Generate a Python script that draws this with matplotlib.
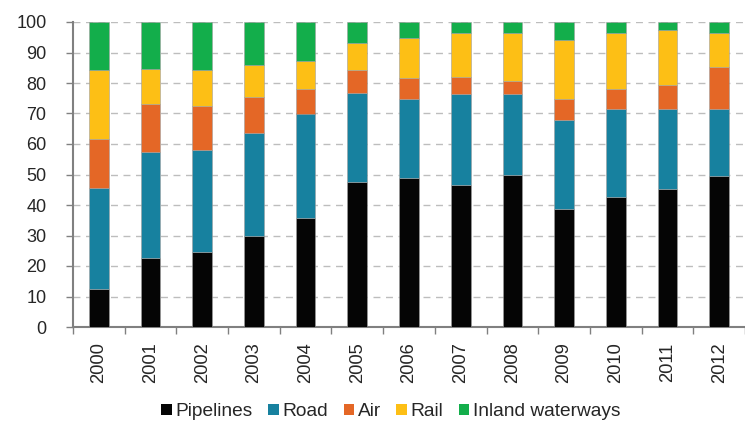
import matplotlib
matplotlib.use("Agg")
import matplotlib.pyplot as plt
import numpy as np

plt.rcParams['font.family'] = ['Liberation Sans', 'DejaVu Sans']

years = ["2000", "2001", "2002", "2003", "2004", "2005", "2006",
         "2007", "2008", "2009", "2010", "2011", "2012"]
# cumulative tops
pipelines_top = [12.6, 22.6, 24.7, 30.0, 35.8, 47.4, 49.0, 46.4, 50.0, 38.8, 42.6, 45.2, 49.5]
road_top      = [45.7, 57.3, 57.9, 63.7, 70.0, 76.8, 74.6, 76.3, 76.3, 67.8, 71.6, 71.6, 71.6]
air_top       = [61.5, 73.1, 72.6, 75.3, 77.9, 84.1, 81.5, 82.1, 80.5, 74.6, 77.9, 79.4, 85.2]
rail_top      = [84.1, 84.7, 84.1, 85.8, 87.3, 93.2, 94.6, 96.3, 96.3, 94.2, 96.3, 97.3, 96.3]
total         = [100.0] * 13

names = ["Pipelines", "Road", "Air", "Rail", "Inland waterways"]
colors = ["#050505", "#17819f", "#e46726", "#fdbf15", "#13ae4b"]

tops = [pipelines_top, road_top, air_top, rail_top, total]
values = []
prev = np.zeros(len(years))
for t in tops:
    t = np.array(t)
    values.append(t - prev)
    prev = t

fig = plt.figure(figsize=(7.45, 4.24), dpi=100)
ax = fig.add_axes([73 / 745, 1 - 327 / 424, (745 - 73) / 745, 305 / 424])

x = np.arange(len(years))
bottom = np.zeros(len(years))
for name, col, v in zip(names, colors, values):
    ax.bar(x, v, bottom=bottom, width=0.38, color=col, label=name,
           edgecolor='#a0a0a0', linewidth=0.4, zorder=3)
    bottom = bottom + v

ax.set_ylim(0, 100)
ax.set_xlim(-0.5, 12.32)
ax.set_yticks(np.arange(0, 101, 10))
ax.yaxis.grid(True, linestyle=(0, (5, 4)), color='#bdbdbd', linewidth=1.0, zorder=0)
ax.set_axisbelow(True)

ax.set_xticks(x)
ax.set_xticklabels(years, rotation=90, fontsize=13.2, color='#262626')
ax.set_xticks(np.arange(-0.5, 12.6, 1), minor=True)
ax.tick_params(axis='x', which='major', length=0, pad=11)
ax.tick_params(axis='x', which='minor', length=5, color='#808080', width=1)
ax.tick_params(axis='y', length=5, color='#808080', width=1, labelsize=13,
               labelcolor='#262626', pad=14)

for s in ['top', 'right']:
    ax.spines[s].set_visible(False)
for s in ['left', 'bottom']:
    ax.spines[s].set_color('#808080')
    ax.spines[s].set_linewidth(1.5)

handles, labels = ax.get_legend_handles_labels()
leg = fig.legend(handles, labels, loc='center', bbox_to_anchor=(391 / 745, 1 - 412 / 424),
                 ncol=5, frameon=False, fontsize=13.8, handlelength=0.55, handleheight=0.55,
                 handletextpad=0.2, columnspacing=0.8, borderaxespad=0)
for h in leg.legend_handles:
    h.set_edgecolor('none')
for t in leg.get_texts():
    t.set_color('#262626')

fig.savefig("out.png", dpi=100)
